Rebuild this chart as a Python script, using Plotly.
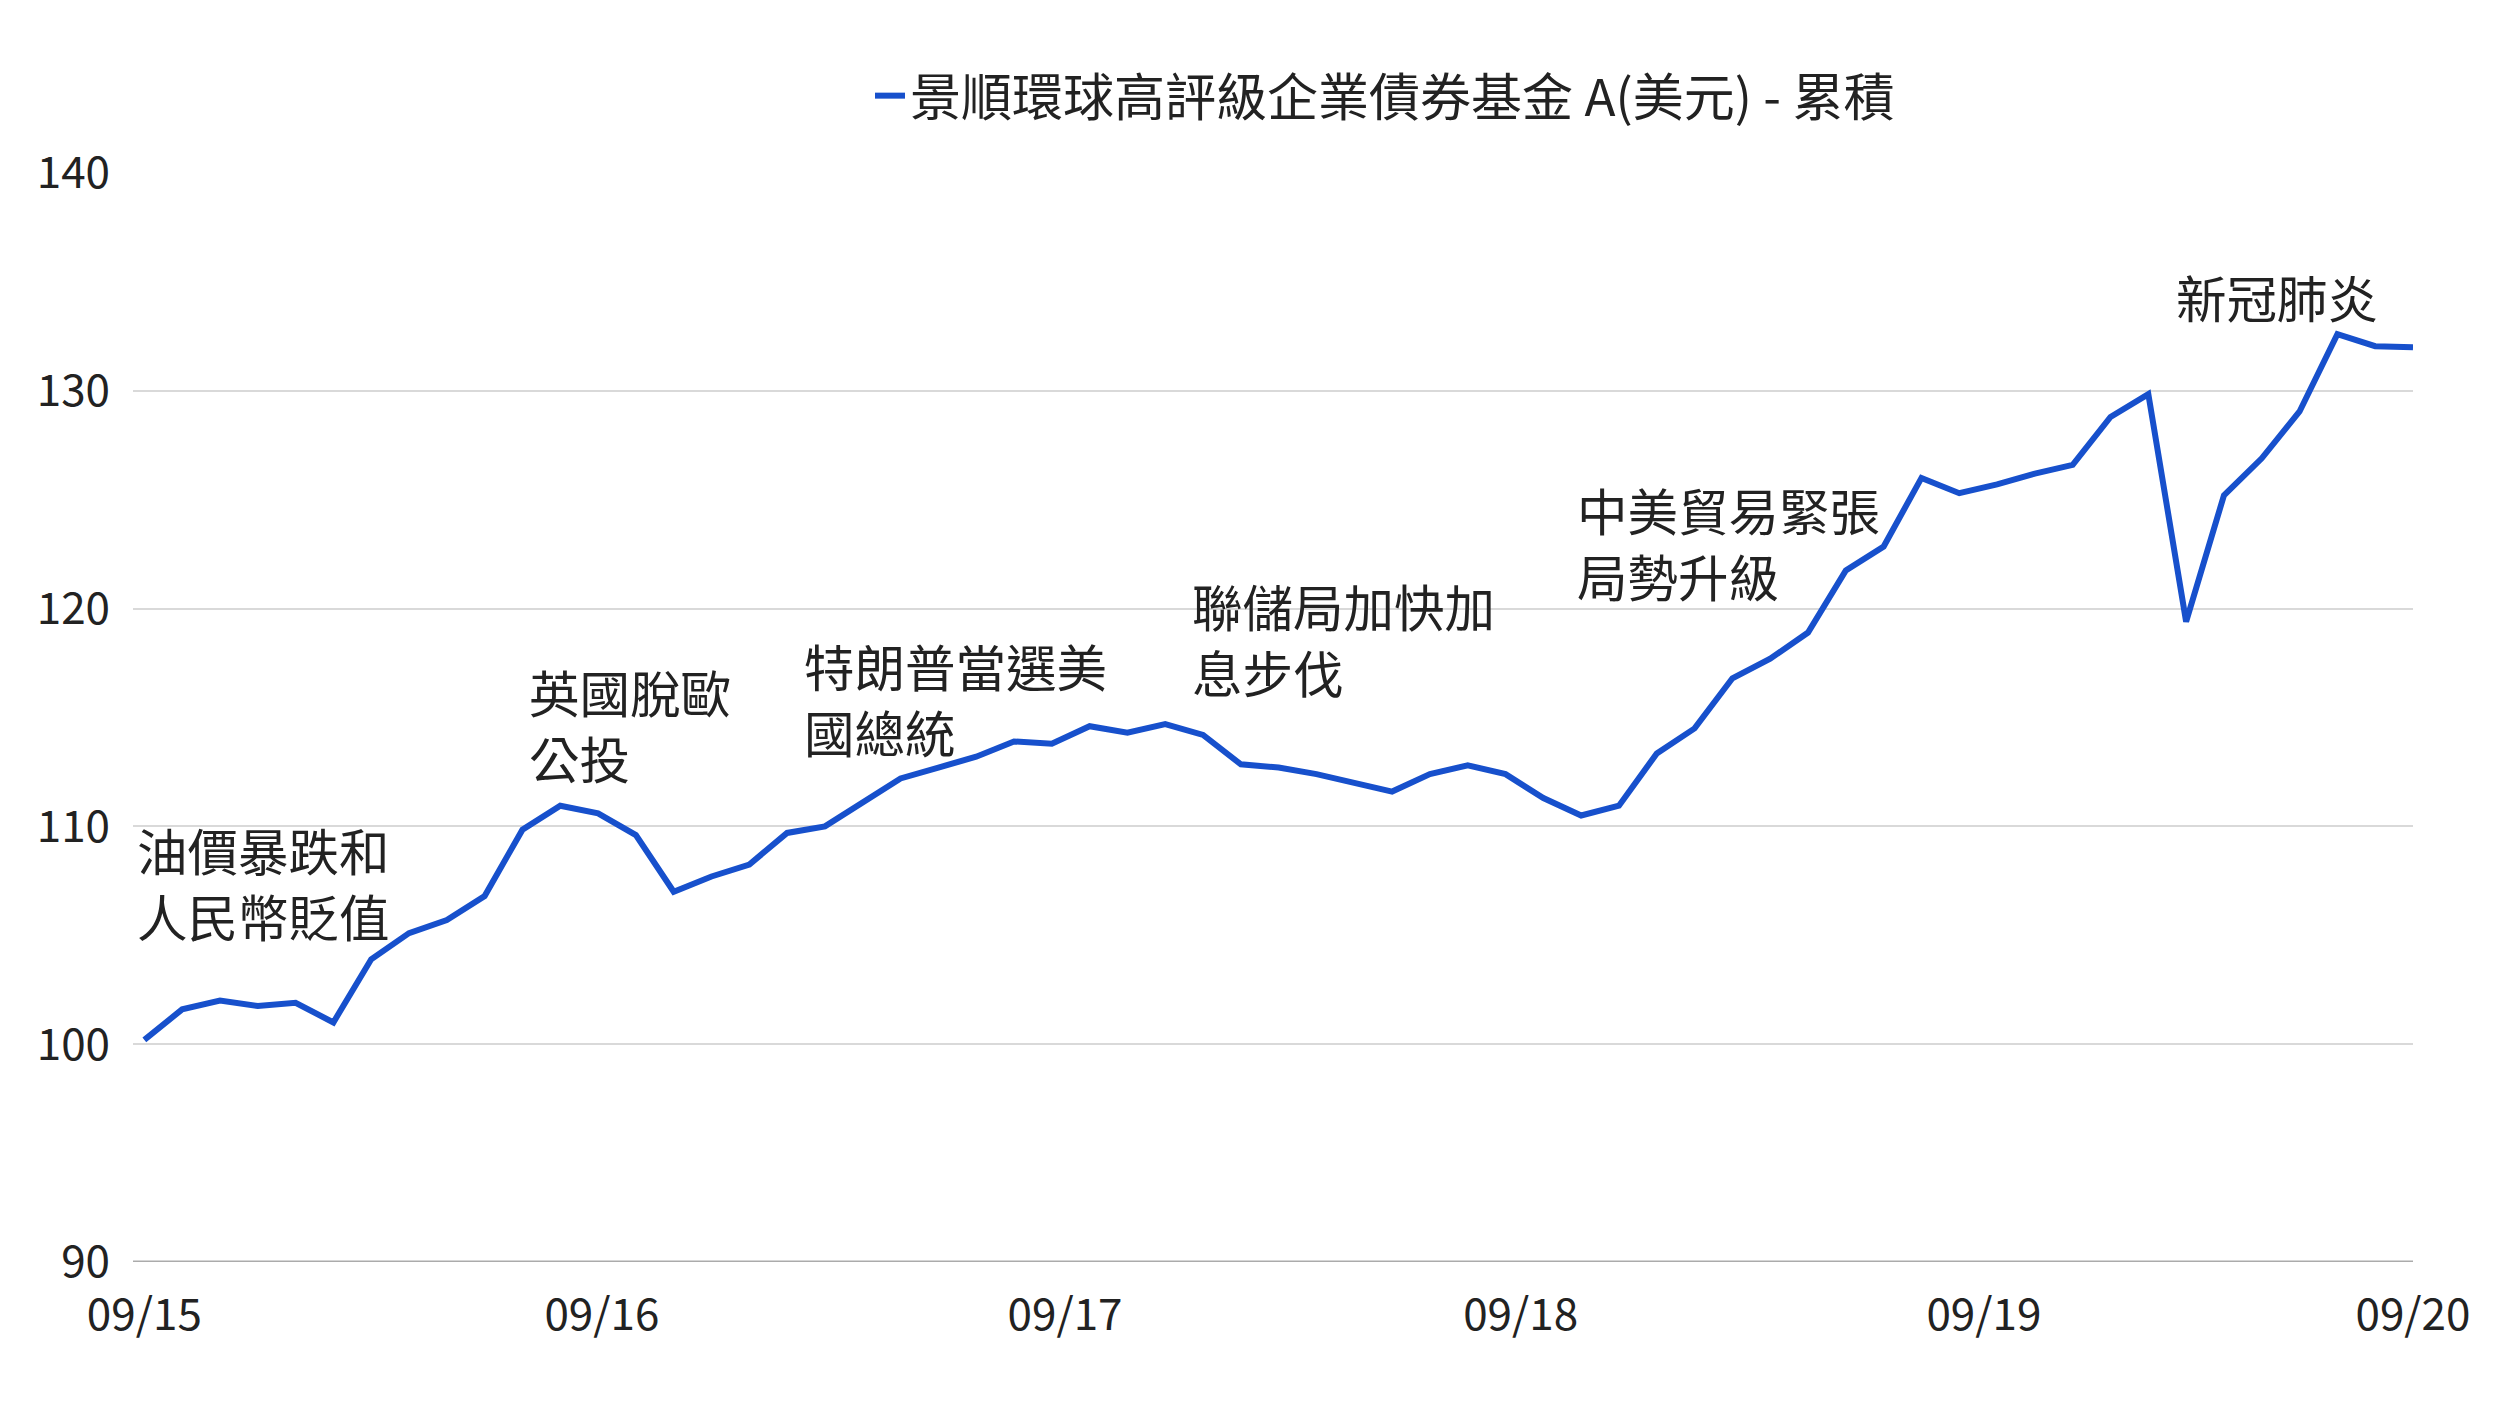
import plotly.graph_objects as go

months = list(range(61))
values = [100.2, 101.6, 102.0, 101.75, 101.9, 101.0, 103.9, 105.1, 105.7, 106.8,
          109.85, 110.95, 110.6, 109.6, 107.0, 107.7, 108.25, 109.7, 110.0, 111.1,
          112.2, 112.7, 113.2, 113.9, 113.8, 114.6, 114.3, 114.7, 114.2, 112.85,
          112.7, 112.4, 112.0, 111.6, 112.4, 112.8, 112.4, 111.3, 110.5, 110.95,
          113.35, 114.5, 116.8, 117.7, 118.9, 121.75, 122.85, 126.0, 125.3, 125.7,
          126.2, 126.6, 128.8, 129.85, 119.4, 125.2, 126.9, 129.05, 132.6, 132.05, 132.0]
tick_vals = [0, 12.1, 24.35, 36.4, 48.65, 60]
tick_text = ["09/15", "09/16", "09/17", "09/18", "09/19", "09/20"]
y_ticks = [90, 100, 110, 120, 130, 140]
series_name = "景順環球高評級企業債券基金 A(美元) - 累積"

# annotation texts with pixel position (x-left, y-center of block)
notes = [
    ("油價暴跌和<br>人民幣貶值", 135, 882),
    ("英國脫歐<br>公投", 527, 724),
    ("特朗普當選美<br>國總統", 802, 698),
    ("聯儲局加快加<br>息步伐", 1190, 638),
    ("中美貿易緊張<br>局勢升級", 1575, 542),
    ("新冠肺炎", 2174, 296),
]

W, H = 2496, 1404
L, R, T, B = 133, 83, 173, 142
pw, ph = W - L - R, H - T - B

FONT = "Noto Sans CJK TC"

fig = go.Figure()
fig.add_trace(go.Scatter(
    x=months, y=values, mode="lines", name=series_name,
    line=dict(color="#1750CC", width=6),
))

annotations = []
for txt, px, py in notes:
    annotations.append(dict(
        text=txt, xref="paper", yref="paper",
        x=(px - L) / pw, y=(H - B - py) / ph,
        xanchor="left", yanchor="middle", align="left", showarrow=False,
        font=dict(family=FONT, size=50.5, color="#222222"),
    ))

fig.update_layout(
    width=W, height=H,
    margin=dict(l=L, r=R, t=T, b=B),
    paper_bgcolor="white", plot_bgcolor="white",
    font=dict(family=FONT, color="#222222"),
    showlegend=True,
    legend=dict(orientation="h", x=(1385 - L) / pw, y=(H - B - 96) / ph,
                xanchor="center", yanchor="middle",
                font=dict(family=FONT, size=51, color="#222222"),
                bgcolor="rgba(0,0,0,0)"),
    annotations=annotations,
    xaxis=dict(range=[-0.3, 60], tickvals=tick_vals, ticktext=tick_text,
               showgrid=False, zeroline=False, showline=False,
               ticks="", ticklabelstandoff=23,
               tickfont=dict(family=FONT, size=44, color="#222222")),
    yaxis=dict(range=[90, 140], tickvals=y_ticks,
               showgrid=True, gridcolor="#D9D9D9", gridwidth=2,
               zeroline=False, showline=False, ticks="", ticklabelstandoff=22,
               tickfont=dict(family=FONT, size=44, color="#222222")),
    shapes=[dict(type="line", xref="paper", yref="y", x0=0, x1=1, y0=90, y1=90,
                 line=dict(color="#ABABAB", width=3), layer="below")],
)

fig.write_html("out.html", config={"displayModeBar": False},
               post_script="document.body.style.margin='0';")
